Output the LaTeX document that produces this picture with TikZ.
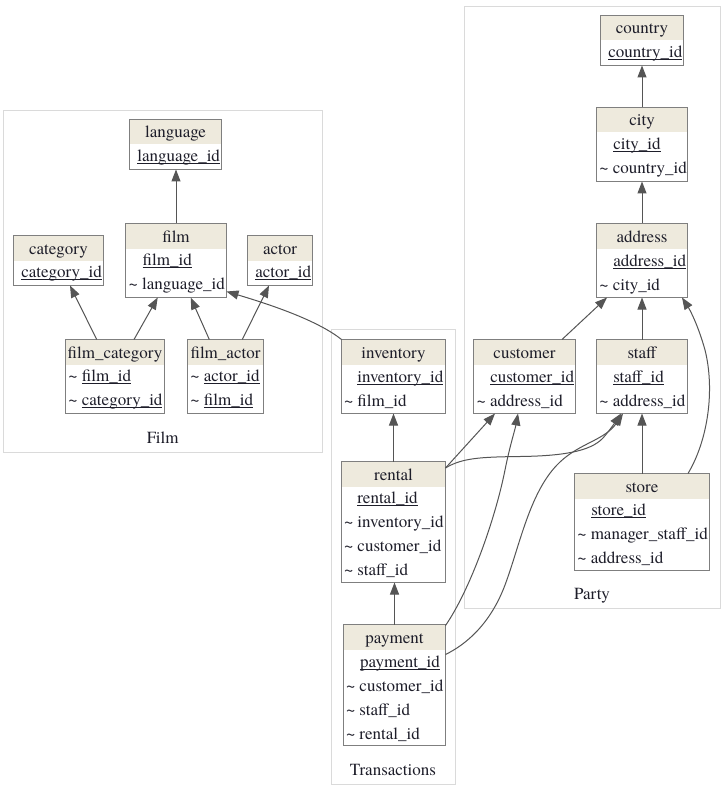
\documentclass[tikz,border=0pt]{standalone}
\usepackage{fontspec}
\setmainfont{TeX Gyre Termes}
\usetikzlibrary{arrows.meta}
\definecolor{hdrfill}{HTML}{EEEADD}
\definecolor{boxline}{HTML}{7F7F7F}
\definecolor{edgecol}{HTML}{555555}
\definecolor{clusline}{HTML}{DADADA}
\definecolor{txtcol}{HTML}{1E1E2A}
\tikzset{
  txt/.style={font=\rmfamily\fontsize{17}{20}\selectfont, text=txtcol, inner sep=0pt, outer sep=0pt},
  tblbox/.style={draw=boxline, fill=white, line width=1.1pt, inner sep=0pt, outer sep=0pt},
  clus/.style={draw=clusline, line width=1pt, inner sep=0pt, outer sep=0pt},
  edge/.style={draw=edgecol, line width=1pt, -{Triangle[length=12pt,width=9pt]}},
  uline/.style={draw=txtcol, line width=0.8pt}
}
\newcommand\ertbl[6]{%
  \node[tblbox, anchor=north west, minimum width={(#4-#2)*1pt}, minimum height={(#5-#3)*1pt}] (#1) at (#2,#3) {};
  \fill[hdrfill] ([shift={(0.6,0.6)}]#1.north west) rectangle ([shift={(-0.6,25)}]#1.north east);
  \draw[boxline, line width=1.1pt] (#1.north west) rectangle (#1.south east);
  \node[txt, anchor=base] (#1-h) at ([shift={(0,18.5)}]#1.north) {#6};
}
\newcommand\pkrow[4]{%
  \node[txt, anchor=base west] (#1) at (#2,#3) {#4};
  \draw[uline] ([yshift=-2pt]#1.base west) -- ([yshift=-2pt]#1.base east);
}
\newcommand\fkrow[4]{%
  \node[txt, anchor=base west] (#1) at (#2,#3) {\textasciitilde\ #4};
}
\newcommand\fkpkrow[4]{%
  \node[txt, anchor=base west] (#1-t) at (#2,#3) {\textasciitilde};
  \pkrow{#1}{#2+13.6}{#3}{#4}
}
\begin{document}
\begin{tikzpicture}[x=1pt,y=-1pt]
\useasboundingbox (0,0) rectangle (724,794);
\fill[white] (0,0) rectangle (724,794);

% clusters
\node[clus, anchor=north west, minimum width=319pt, minimum height=341.5pt] (filmclus) at (3.5,110.5) {};
\node[txt, anchor=base] (filmlbl) at (162.7,443) {Film};
\node[clus, anchor=north west, minimum width=123.5pt, minimum height=455pt] (transclus) at (331.5,329.5) {};
\node[txt, anchor=base] (translbl) at (393,775) {Transactions};
\node[clus, anchor=north west, minimum width=256pt, minimum height=602pt] (partyclus) at (464.5,6.5) {};
\node[txt, anchor=base] (partylbl) at (592,599) {Party};

% Film tables
\ertbl{language}{129.5}{119.5}{221.5}{169.5}{language}
\pkrow{language-r1}{137.3}{161.5}{language\_id}

\ertbl{film}{125.5}{223.5}{226.5}{297.5}{film}
\pkrow{film-r1}{142.7}{265.5}{film\_id}
\fkrow{film-r2}{128.7}{289.5}{language\_id}

\ertbl{category}{13.5}{235.5}{103.5}{285.5}{category}
\pkrow{category-r1}{21.3}{277.5}{category\_id}

\ertbl{actor}{247.5}{235.5}{312.5}{285.5}{actor}
\pkrow{actor-r1}{255.3}{277.5}{actor\_id}

\ertbl{fc}{65.5}{339.5}{164.5}{413.5}{film\_category}
\fkpkrow{fc-r1}{68.3}{381.5}{film\_id}
\fkpkrow{fc-r2}{68.3}{405.5}{category\_id}

\ertbl{fa}{187.5}{339.5}{263.5}{413.5}{film\_actor}
\fkpkrow{fa-r1}{190.3}{381.5}{actor\_id}
\fkpkrow{fa-r2}{190.3}{405.5}{film\_id}

% Transactions tables
\ertbl{inventory}{341.5}{339.5}{445.5}{413.5}{inventory}
\pkrow{inventory-r1}{357.3}{382}{inventory\_id}
\fkrow{inventory-r2}{344}{406}{film\_id}

\ertbl{rental}{341.5}{461.5}{445.5}{582.5}{rental}
\pkrow{rental-r1}{357.3}{503.5}{rental\_id}
\fkrow{rental-r2}{344}{527.5}{inventory\_id}
\fkrow{rental-r3}{344}{551.5}{customer\_id}
\fkrow{rental-r4}{344}{575.5}{staff\_id}

\ertbl{payment}{343.5}{624.5}{445.5}{745.5}{payment}
\pkrow{payment-r1}{360}{667}{payment\_id}
\fkrow{payment-r2}{346}{691}{customer\_id}
\fkrow{payment-r3}{346}{715}{staff\_id}
\fkrow{payment-r4}{346}{739}{rental\_id}

% Party tables
\ertbl{country}{600.5}{15.5}{683.5}{65.5}{country}
\pkrow{country-r1}{608.3}{57.5}{country\_id}

\ertbl{city}{596.5}{107.5}{687.5}{181.5}{city}
\pkrow{city-r1}{613.3}{149.5}{city\_id}
\fkrow{city-r2}{599.3}{173.5}{country\_id}

\ertbl{address}{596.5}{223.5}{687.5}{297.5}{address}
\pkrow{address-r1}{613.3}{266}{address\_id}
\fkrow{address-r2}{599.3}{290}{city\_id}

\ertbl{customer}{473.5}{339.5}{575.5}{413.5}{customer}
\pkrow{customer-r1}{490.3}{382}{customer\_id}
\fkrow{customer-r2}{476.7}{406}{address\_id}

\ertbl{staff}{596.5}{339.5}{687.5}{413.5}{staff}
\pkrow{staff-r1}{613.3}{382}{staff\_id}
\fkrow{staff-r2}{599.3}{406}{address\_id}

\ertbl{store}{574.5}{473.5}{709.5}{570.5}{store}
\pkrow{store-r1}{591.3}{515.5}{store\_id}
\fkrow{store-r2}{577.3}{539.5}{manager\_staff\_id}
\fkrow{store-r3}{577.3}{563.5}{address\_id}

% edges
\draw[edge] (film.north) -- (film.north |- language.south);
\draw[edge] ([xshift=31.2pt]fc.north west) -- ([xshift=56.5pt]category.south west);
\draw[edge] ([xshift=68.5pt]fc.north west) -- ([xshift=32.2pt]film.south west);
\draw[edge] ([xshift=21.8pt]fa.north west) -- ([xshift=65.2pt]film.south west);
\draw[edge] ([xshift=54.8pt]fa.north west) -- ([xshift=21.5pt]actor.south west);
\draw[edge] (inventory.north west) .. controls +(-25,-20) and +(40,12) .. ([yshift=6pt]film.south east);
\draw[edge] (rental.north) -- (rental.north |- inventory.south);
\draw[edge] (payment.north) -- (payment.north |- rental.south);
\draw[edge] ([yshift=-6.5pt]rental.north east) -- ([xshift=21.5pt]customer.south west);
\draw[edge] ([yshift=-6.5pt]rental.north east) .. controls (462,458) and (480,457) .. (520,456.5) .. controls (560,456) and (590,452) .. (603,438) .. controls (610,430) and (616,421) .. ([xshift=24.5pt]staff.south west);
\draw[edge] ([yshift=-1pt]payment.north east) .. controls (470,590) and (495,520) .. (505,470) .. controls (510,445) and (515,430) .. ([xshift=44.5pt]customer.south west);
\draw[edge] ([yshift=-30pt]payment.north east) .. controls (465,645) and (490,625) .. (505,585) .. controls (520,545) and (530,490) .. (560,462) .. controls (580,443) and (605,440) .. ([xshift=26.5pt]staff.south west);
\draw[edge] ([xshift=88.5pt]customer.north west) -- ([xshift=10.5pt]address.south west);
\draw[edge] (staff.north) -- (address.south);
\draw[edge] ([xshift=113.5pt]store.north west) .. controls (708,440) and (715,390) .. (705,350) .. controls (698,325) and (690,310) .. ([xshift=85.5pt]address.south west);
\draw[edge] (store.north) -- (staff.south);
\draw[edge] (address.north) -- (city.south);
\draw[edge] (city.north) -- (country.south);
\end{tikzpicture}
\end{document}
